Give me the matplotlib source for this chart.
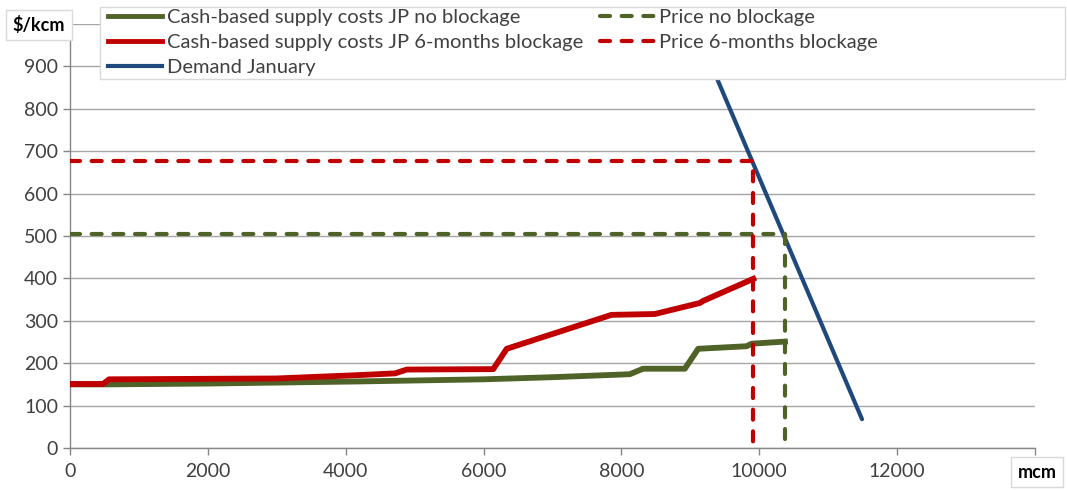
import matplotlib.pyplot as plt
from matplotlib.patches import Rectangle
from matplotlib.lines import Line2D

plt.rcParams['font.family'] = ['Lato', 'DejaVu Sans']

# supply curves (cumulative volume in mcm, cost in $/kcm)
x_nob = [0, 500, 2000, 4200, 6000, 7000, 8120, 8315, 8920, 9114, 9816, 9889, 10373]
y_nob = [150, 150, 152, 157, 162, 167, 174, 187, 187, 234, 240, 246, 251]

x_blk = [0, 480, 566, 3000, 4200, 4716, 4885, 6140, 6336, 7855, 8484, 9138, 9186, 9913]
y_blk = [151, 151, 162, 164, 172, 176, 185, 186, 234, 314, 316, 342, 347, 399]

# demand curve
x_dem = [9050, 11490]
y_dem = [1000, 68]

# clearing points
q_nob, p_nob = 10373, 505
q_blk, p_blk = 9910, 677

green = '#4F6228'
red = '#C00000'
blue = '#1F497D'
gray = '#A6A6A6'

fig = plt.figure(figsize=(10.67, 4.91), dpi=100)
ax = fig.add_axes([70 / 1067, 43 / 491, 965 / 1067, 424 / 491])

ax.plot(x_nob, y_nob, color=green, lw=4.2, solid_joinstyle='round', zorder=3)
ax.plot(x_blk, y_blk, color=red, lw=4.2, solid_joinstyle='round', zorder=4)
ax.plot(x_dem, y_dem, color=blue, lw=3, solid_capstyle='round', zorder=5)

dash = dict(lw=3, dashes=(2.4, 2.8), dash_capstyle='round', zorder=6)
ax.plot([0, q_nob, q_nob], [p_nob, p_nob, 0], color=green, **dash)
ax.plot([0, q_blk, q_blk], [p_blk, p_blk, 0], color=red, **dash)

ax.set_xlim(0, 14000)
ax.set_ylim(0, 1000)
ax.set_xticks(range(0, 14001, 2000))
ax.set_xticklabels(['0', '2000', '4000', '6000', '8000', '10000', '12000', ''])
ax.set_yticks(range(0, 1001, 100))
# the 1000 label sits under the unit box in the original
ax.set_yticklabels([str(v) for v in range(0, 901, 100)] + [''])
ax.yaxis.grid(True, color=gray, lw=1)
ax.set_axisbelow(True)
for s in ['top', 'right']:
    ax.spines[s].set_visible(False)
for s in ['left', 'bottom']:
    ax.spines[s].set_color('#868686')
    ax.spines[s].set_linewidth(1)
ax.tick_params(axis='both', colors='#868686', labelcolor='#404040',
               labelsize=14, length=5, width=1)
ax.tick_params(axis='x', pad=6)

# legend box over the top of the plot
fig.patches.append(Rectangle((100 / 1067, 412 / 491), 965 / 1067, 72 / 491,
                             transform=fig.transFigure, facecolor='white',
                             edgecolor='#D9D9D9', lw=1, zorder=2))
h1 = [Line2D([], [], color=green, lw=3.5),
      Line2D([], [], color=red, lw=3.5),
      Line2D([], [], color=blue, lw=3)]
l1 = ['Cash-based supply costs JP no blockage',
      'Cash-based supply costs JP 6-months blockage',
      'Demand January']
h2 = [Line2D([], [], color=green, lw=3, dashes=(2.4, 2.8), dash_capstyle='round'),
      Line2D([], [], color=red, lw=3, dashes=(2.4, 2.8), dash_capstyle='round')]
l2 = ['Price no blockage', 'Price 6-months blockage']
leg_kw = dict(frameon=False, fontsize=14.5, handlelength=2.7, handletextpad=0.25,
              labelspacing=0.38, borderpad=0, borderaxespad=0, loc='upper left')
for t in fig.legend(h1, l1, bbox_to_anchor=(108 / 1067, 1 - 9 / 491), **leg_kw).get_texts():
    t.set_color('#404040')
for t in fig.legend(h2, l2, bbox_to_anchor=(600 / 1067, 1 - 9 / 491), **leg_kw).get_texts():
    t.set_color('#404040')

# axis unit labels
box = dict(boxstyle='square,pad=0.35', facecolor='white', edgecolor='#D9D9D9', lw=1)
fig.text(39 / 1067, 1 - 25 / 491, '$/kcm', fontsize=13, fontweight='bold',
         ha='center', va='center', bbox=box, zorder=10)
fig.text(1037 / 1067, 1 - 472 / 491, 'mcm', fontsize=13, fontweight='bold',
         ha='center', va='center', bbox=box, zorder=10)

fig.savefig('out.png', dpi=100)
